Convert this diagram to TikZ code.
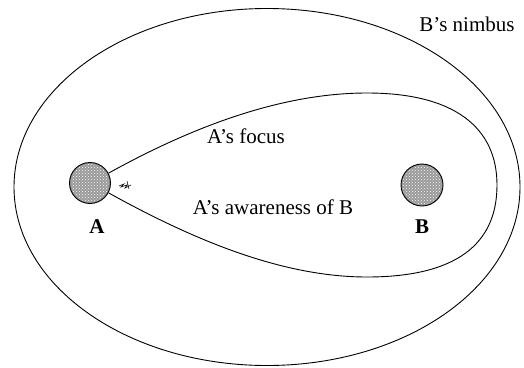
\documentclass[tikz,border=0pt]{standalone}
\usepackage{fontspec}
\setmainfont{Liberation Serif}
\usetikzlibrary{shapes.geometric,patterns}
\begin{document}
\begin{tikzpicture}[x=1pt,y=-1pt,
  line/.style={draw=black,line width=0.9pt},
  entity/.style={circle,draw=black,line width=0.9pt,fill=gray!80,minimum size=41pt,inner sep=0pt},
  lbl/.style={font=\fontsize{21}{24}\selectfont,inner sep=0pt},
  blbl/.style={font=\fontsize{21}{24}\selectfont\bfseries,inner sep=0pt}]
\useasboundingbox (0,0) rectangle (524,367);
\node[ellipse,draw=black,line width=0.9pt,minimum width=506pt,minimum height=357pt,inner sep=0pt] (nimbus) at (267,187) {};
\node[entity] (A) at (90,183) {};
\node[entity,minimum size=42pt] (B) at (422,185) {};
\path[pattern=crosshatch dots,pattern color=white] (A.center) circle (19pt);
\path[pattern=crosshatch dots,pattern color=white] (B.center) circle (19.5pt);
\node[blbl] (Alab) at (97,227) {A};
\node[blbl] (Blab) at (422,227) {B};
\node[lbl] (focus) at (246,136) {A’s focus};
\node[lbl] (aware) at (273,207) {A’s awareness of B};
\node[lbl] (nimbuslab) at (467,24) {B’s nimbus};
\draw[line] (A.28) .. controls (190,128) and (280,93) .. (367,93)
  .. controls (455,93) and (497,128) .. (497,185)
  .. controls (497,245) and (455,277) .. (367,277)
  .. controls (280,277) and (190,238) .. (A.-28);
\coordinate (s1) at (119,186);
\draw[line width=0.6pt] (s1) -- ++(5,-2) -- ++(-3,3) -- ++(6,-2) -- ++(-2,3) -- ++(6,-3) ++(-4,-4) -- ++(2,8);
\end{tikzpicture}
\end{document}
